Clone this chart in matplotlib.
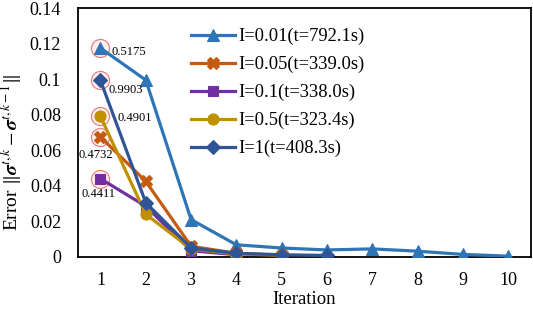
import matplotlib
matplotlib.use("Agg")
import matplotlib.pyplot as plt
from matplotlib.ticker import FixedLocator, FuncFormatter

plt.rcParams['font.family'] = ['Liberation Serif', 'DejaVu Serif']
plt.rcParams['mathtext.fontset'] = 'stix'

iterations = [1, 2, 3, 4, 5, 6, 7, 8, 9, 10]
labels = ["I=0.01(t=792.1s)", "I=0.05(t=339.0s)", "I=0.1(t=338.0s)",
          "I=0.5(t=323.4s)", "I=1(t=408.3s)"]
err_001 = [0.1175, 0.0995, 0.0210, 0.0068, 0.0050, 0.0039, 0.0045, 0.0032, 0.0014, 0.0004]
err_005 = [0.0675, 0.0425, 0.0060, 0.0020, 0.0010]
err_01 = [0.0440, 0.0285, 0.0035, 0.0012]
err_05 = [0.0790, 0.0240, 0.0045, 0.0016, 0.0010]
err_1 = [0.0993, 0.0305, 0.0050, 0.0020, 0.0012, 0.0008]
first_ratio = ["0.5175", "0.4732", "0.4411", "0.4901", "0.9903"]

series = [err_001, err_005, err_01, err_05, err_1]
colors = ["#2E75B6", "#C55A11", "#7030A0", "#BF9000", "#2F5597"]
markers = ["^", "X", "s", "o", "D"]
msizes = [8, 8, 7, 8, 7]
# annotation offsets (points) for first-iteration labels
offsets = [(8, -3), (-16, -13), (-14, -11), (12, -1), (6, -7)]

fig = plt.figure(figsize=(5.33, 3.11), dpi=100)
ax = fig.add_axes([0.146, 0.174, 0.850, 0.800])

for vals, c, m, ms, lab in zip(series, colors, markers, msizes, labels):
    ax.plot(iterations[:len(vals)], vals, color=c, marker=m, markersize=ms,
            linewidth=2.3, label=lab, markeredgewidth=0.8, zorder=3)

for vals, txt, off in zip(series, first_ratio, offsets):
    ax.plot(iterations[0], vals[0], marker='o', markersize=13,
            markerfacecolor=(1, 0.85, 0.85, 0.35), markeredgecolor='#F08080',
            markeredgewidth=0.9, linestyle='none', zorder=2)
    ax.annotate(txt, (iterations[0], vals[0]), xytext=off, textcoords='offset points',
                fontsize=9, va='center', ha='left', zorder=4)

ax.set_xlim(0.5, 10.5)
ax.set_ylim(0, 0.14)
ax.xaxis.set_major_locator(FixedLocator(iterations))
ax.yaxis.set_major_locator(FixedLocator([0, 0.02, 0.04, 0.06, 0.08, 0.1, 0.12, 0.14]))
ax.yaxis.set_major_formatter(FuncFormatter(lambda v, p: ("%g" % round(v, 2))))
ax.tick_params(axis='both', length=0, labelsize=13)
ax.tick_params(axis='y', pad=12)
ax.tick_params(axis='x', pad=11)
for s in ax.spines.values():
    s.set_linewidth(1.3)
    s.set_color('black')

ax.set_xlabel("Iteration", fontsize=13.5, labelpad=1)
ax.set_ylabel(r"Error $\|\boldsymbol{\sigma}^{t,k}-\boldsymbol{\sigma}^{t,k-1}\|$",
              fontsize=14)
ax.yaxis.set_label_coords(-0.118, 0.42)

leg = ax.legend(loc='upper left', bbox_to_anchor=(0.25, 0.92), frameon=False,
                fontsize=13.3, handlelength=2.4, labelspacing=0.58, handletextpad=0.15,
                borderaxespad=0, borderpad=0)

fig.savefig("out.png", dpi=100)
